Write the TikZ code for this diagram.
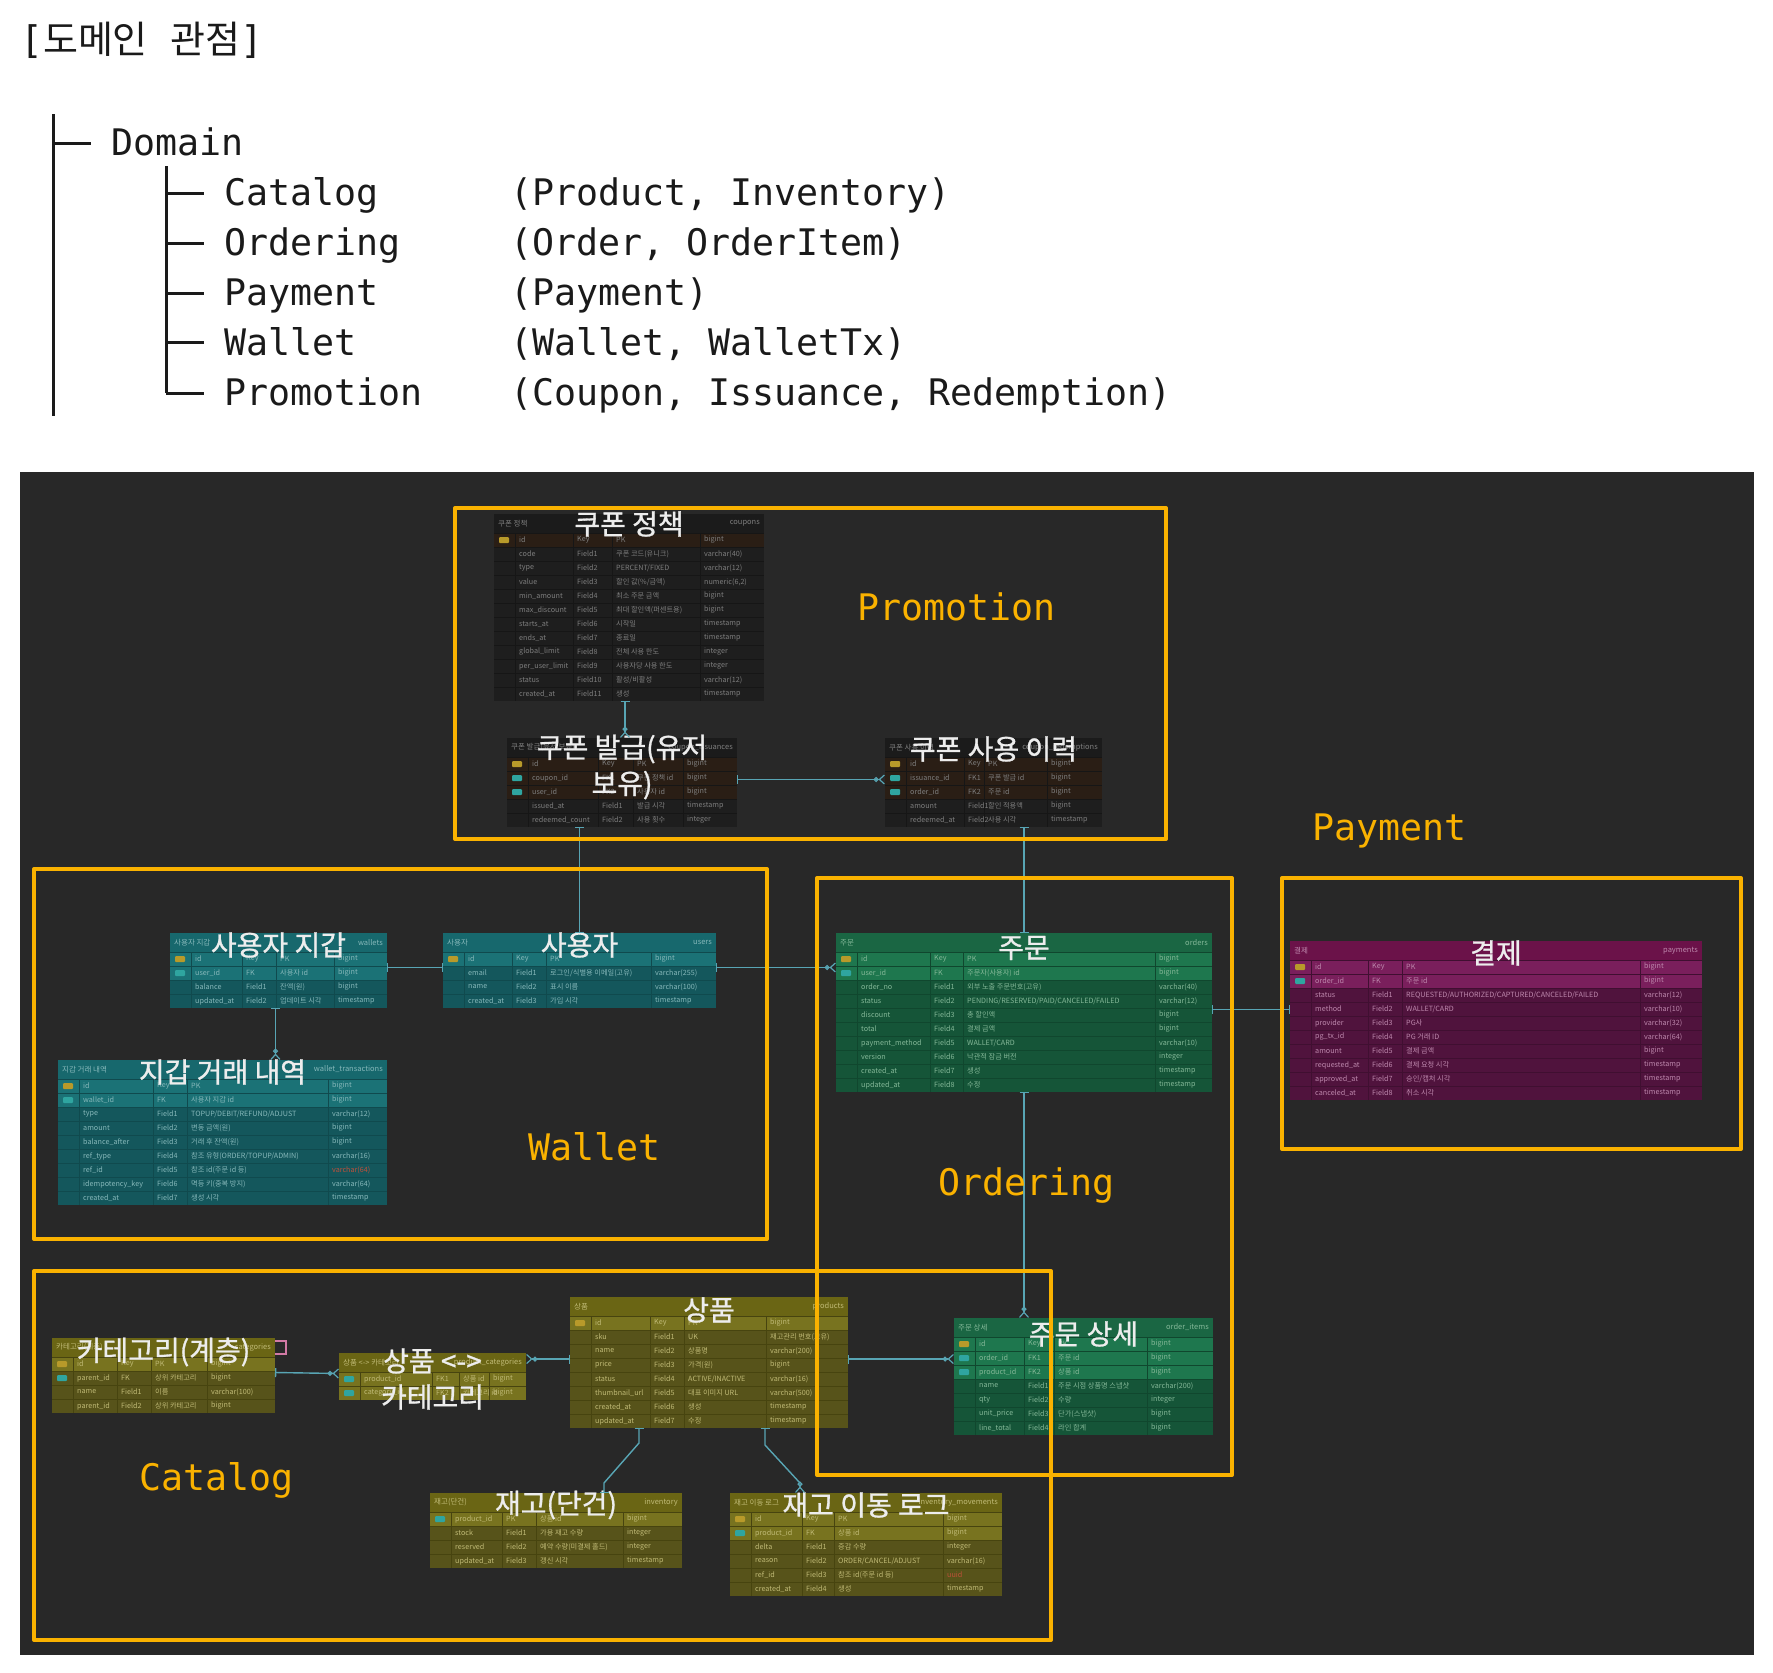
\documentclass[tikz,border=0pt]{standalone}
\usepackage{fontspec}
\usetikzlibrary{arrows.meta,calc}
\newfontfamily\mono{DejaVu Sans Mono}
\newfontfamily\cjk{Noto Sans CJK KR}
\newfontfamily\cjkb[FakeBold=1]{Noto Sans CJK KR}
\definecolor{panel}{HTML}{282828}
\definecolor{orng}{RGB}{250,178,0}
\definecolor{connc}{RGB}{88,165,180}
\definecolor{inkc}{HTML}{1A1A1A}
\definecolor{iconpk}{HTML}{B89A2A}
\definecolor{iconfk}{HTML}{2FA5A0}
\definecolor{reftype}{HTML}{C0503A}
\definecolor{pinkish}{HTML}{D27AA5}
% themes
\definecolor{dkhd}{HTML}{1B1B1B}\definecolor{dkrow}{HTML}{1E1E1E}\definecolor{dkhl}{HTML}{2A1E15}\definecolor{dksep}{HTML}{161616}\definecolor{dktxt}{HTML}{7E7E7E}
\definecolor{tlhd}{HTML}{17686D}\definecolor{tlrow}{HTML}{14575C}\definecolor{tlhl}{HTML}{1B7276}\definecolor{tlsep}{HTML}{104A4E}\definecolor{tltxt}{HTML}{86B8BA}
\definecolor{gnhd}{HTML}{1A6643}\definecolor{gnrow}{HTML}{155538}\definecolor{gnhl}{HTML}{1E774E}\definecolor{gnsep}{HTML}{10472E}\definecolor{gntxt}{HTML}{84B898}
\definecolor{puhd}{HTML}{6B1249}\definecolor{purow}{HTML}{50133D}\definecolor{puhl}{HTML}{7A1F5C}\definecolor{pusep}{HTML}{400F31}\definecolor{putxt}{HTML}{BE88AD}
\definecolor{olhd}{HTML}{6A6514}\definecolor{olrow}{HTML}{57531A}\definecolor{olhl}{HTML}{78731F}\definecolor{olsep}{HTML}{47440F}\definecolor{oltxt}{HTML}{C0BA76}
\newcommand\settable[8]{\def\TL{#1}\def\TT{#2}\def\TW{#3}\def\CK{#4}\def\CC{#5}\def\CT{#6}\def\TH{#7}\def\NR{#8}}
\newcommand\tablebg[3]{%
  \pgfmathsetmacro\TBH{19+14*\NR}%
  \node[tblbox, fill=\TH row, minimum width=\TW pt, minimum height=\TBH pt] (#1) at (\TL,\TT) {};
  \fill[\TH hd] (\TL,\TT) rectangle ++(\TW,19);
  \node[hdl,text=\TH txt] at (\TL+4,\TT+9.5) {#2};
  \node[hdr,text=\TH txt] at (\TL+\TW-4,\TT+9.5) {#3};
}
\newcommand\trow[6]{%
  \pgfmathsetmacro\RY{\TT+19+14*(#1-1)}%
  \ifnum#2<3 \ifnum#2>0 \fill[\TH hl] (\TL,\RY) rectangle ++(\TW,14);\fi\fi
  \ifnum#2=1 \fill[iconpk,rounded corners=1pt] (\TL+5,\RY+4) rectangle ++(10,6);\fi
  \ifnum#2>1 \fill[iconfk,rounded corners=1pt] (\TL+5,\RY+4) rectangle ++(10,6);\fi
  \draw[\TH sep, line width=0.8pt] (\TL,\RY) -- ++(\TW,0);
  \node[cellt,text=\TH txt] at (\TL+25,\RY+7) {#3};
  \node[cellt,text=\TH txt] at (\TL+\CK+4,\RY+7) {#4};
  \node[cellt,text=\TH txt] at (\TL+\CC+4,\RY+7) {#5};
  \node[cellt,text=\TH txt] at (\TL+\CT+4,\RY+7) {#6};
}
\newcommand\tablesep{%
  \pgfmathsetmacro\TB{\TT+19+14*\NR}%
  \foreach \cx in {21,\CK,\CC,\CT} {\draw[\TH sep, line width=0.8pt] (\TL+\cx,\TT+19) -- (\TL+\cx,\TB);}
}
\newcommand\ttitle[2]{\node[ttl] at (\TL+\TW/2,\TT+#1) {#2};}
\tikzset{
  erone/.tip={Bar[width=9pt,line width=1.3pt]},
  ermany/.tip={Circle[open,length=5pt,width=5pt,line width=1.2pt] Straight Barb[reversed,length=5pt,width=9pt,line width=1.2pt]},
}
\begin{document}
\begin{tikzpicture}[x=1pt,y=-1pt,
  tblbox/.style={draw=none,inner sep=0,outer sep=0,anchor=north west},
  hdl/.style={anchor=west,inner sep=0,font=\cjk\fontsize{7.5}{8}\selectfont},
  hdr/.style={anchor=east,inner sep=0,font=\cjk\fontsize{7.5}{8}\selectfont},
  cellt/.style={anchor=west,inner sep=0,font=\cjk\fontsize{7.2}{8}\selectfont},
  ttl/.style={inner sep=0,align=center,text=white!93!black,font=\cjkb\fontsize{28}{36}\selectfont},
  treetxt/.style={anchor=base west,inner sep=0,text=inkc,font=\mono\fontsize{36.6}{40}\selectfont},
  olabel/.style={anchor=base west,inner sep=0,text=orng,font=\mono\fontsize{36.6}{40}\selectfont},
  treeln/.style={draw=inkc,line width=3pt},
  conn/.style={draw=connc,line width=1.4pt},
  obox/.style={draw=orng,line width=4pt,line join=round}]
\fill[white] (0,0) rectangle (1773,1673);
\useasboundingbox (0,0) rectangle (1773,1673);
% ---------- top text ----------
\node[anchor=base west,inner sep=0,text=inkc] (title) at (20,53)
  {\fontsize{38}{42}\selectfont{\mono[}{\cjk 도메인}{\mono\ }{\cjk 관점}{\mono]}};
\draw[treeln] (53,114) -- (53,416);
\draw[treeln] (53,143) -- (91,143);
\draw[treeln] (166,166) -- (166,393);
\foreach \yy in {193,243,293,342,393} {\draw[treeln] (166,\yy) -- (204,\yy);}
\node[treetxt] (tdom) at (111,155) {Domain};
\node[treetxt] (tcat) at (224,205) {Catalog};
\node[treetxt] (tord) at (224,255) {Ordering};
\node[treetxt] (tpay) at (224,305) {Payment};
\node[treetxt] (twal) at (224,355) {Wallet};
\node[treetxt] (tpro) at (224,405) {Promotion};
\node[treetxt] (pcat) at (510,205) {(Product, Inventory)};
\node[treetxt] (pord) at (510,255) {(Order, OrderItem)};
\node[treetxt] (ppay) at (510,305) {(Payment)};
\node[treetxt] (pwal) at (510,355) {(Wallet, WalletTx)};
\node[treetxt] (ppro) at (510,405) {(Coupon, Issuance, Redemption)};
% ---------- panel ----------
\fill[panel] (20,472) rectangle (1754,1655);
% ---------- coupons ----------
\settable{494}{514}{270}{79}{118}{206}{dk}{12}
\tablebg{cpn}{쿠폰 정책}{coupons}
\trow{1}{1}{id}{Key}{PK}{bigint}
\trow{2}{0}{code}{Field1}{쿠폰 코드(유니크)}{varchar(40)}
\trow{3}{0}{type}{Field2}{PERCENT/FIXED}{varchar(12)}
\trow{4}{0}{value}{Field3}{할인 값(\%/금액)}{numeric(6,2)}
\trow{5}{0}{min\_amount}{Field4}{최소 주문 금액}{bigint}
\trow{6}{0}{max\_discount}{Field5}{최대 할인액(퍼센트용)}{bigint}
\trow{7}{0}{starts\_at}{Field6}{시작일}{timestamp}
\trow{8}{0}{ends\_at}{Field7}{종료일}{timestamp}
\trow{9}{0}{global\_limit}{Field8}{전체 사용 한도}{integer}
\trow{10}{0}{per\_user\_limit}{Field9}{사용자당 사용 한도}{integer}
\trow{11}{0}{status}{Field10}{활성/비활성}{varchar(12)}
\trow{12}{0}{created\_at}{Field11}{생성}{timestamp}
\tablesep
\ttitle{10}{쿠폰 정책}
% ---------- issuances ----------
\settable{507}{738}{230}{91}{126}{176}{dk}{5}
\tablebg{iss}{쿠폰 발급(유저 보유)}{coupon\_issuances}
\trow{1}{1}{id}{Key}{PK}{bigint}
\trow{2}{2}{coupon\_id}{FK1}{쿠폰 정책 id}{bigint}
\trow{3}{2}{user\_id}{FK2}{사용자 id}{bigint}
\trow{4}{0}{issued\_at}{Field1}{발급 시각}{timestamp}
\trow{5}{0}{redeemed\_count}{Field2}{사용 횟수}{integer}
\tablesep
\ttitle{29}{쿠폰 발급(유저\\보유)}
% ---------- redemptions ----------
\settable{885}{738}{217}{79}{99}{162}{dk}{5}
\tablebg{red}{쿠폰 사용 이력}{coupon\_redemptions}
\trow{1}{1}{id}{Key}{PK}{bigint}
\trow{2}{2}{issuance\_id}{FK1}{쿠폰 발급 id}{bigint}
\trow{3}{2}{order\_id}{FK2}{주문 id}{bigint}
\trow{4}{0}{amount}{Field1}{할인 적용액}{bigint}
\trow{5}{0}{redeemed\_at}{Field2}{사용 시각}{timestamp}
\tablesep
\ttitle{11}{쿠폰 사용 이력}
% ---------- wallets ----------
\settable{170}{933}{217}{72}{106}{164}{tl}{4}
\tablebg{wal}{사용자 지갑}{wallets}
\trow{1}{1}{id}{Key}{PK}{bigint}
\trow{2}{2}{user\_id}{FK}{사용자 id}{bigint}
\trow{3}{0}{balance}{Field1}{잔액(원)}{bigint}
\trow{4}{0}{updated\_at}{Field2}{업데이트 시각}{timestamp}
\tablesep
\ttitle{12}{사용자 지갑}
% ---------- users ----------
\settable{443}{933}{273}{69}{103}{208}{tl}{4}
\tablebg{usr}{사용자}{users}
\trow{1}{1}{id}{Key}{PK}{bigint}
\trow{2}{0}{email}{Field1}{로그인/식별용 이메일(고유)}{varchar(255)}
\trow{3}{0}{name}{Field2}{표시 이름}{varchar(100)}
\trow{4}{0}{created\_at}{Field3}{가입 시각}{timestamp}
\tablesep
\ttitle{12}{사용자}
% ---------- wallet transactions ----------
\settable{58}{1060}{329}{95}{129}{270}{tl}{9}
\tablebg{wtx}{지갑 거래 내역}{wallet\_transactions}
\trow{1}{1}{id}{Key}{PK}{bigint}
\trow{2}{2}{wallet\_id}{FK}{사용자 지갑 id}{bigint}
\trow{3}{0}{type}{Field1}{TOPUP/DEBIT/REFUND/ADJUST}{varchar(12)}
\trow{4}{0}{amount}{Field2}{변동 금액(원)}{bigint}
\trow{5}{0}{balance\_after}{Field3}{거래 후 잔액(원)}{bigint}
\trow{6}{0}{ref\_type}{Field4}{참조 유형(ORDER/TOPUP/ADMIN)}{varchar(16)}
\trow{7}{0}{ref\_id}{Field5}{참조 id(주문 id 등)}{\textcolor{reftype}{varchar(64)}}
\trow{8}{0}{idempotency\_key}{Field6}{멱등 키(중복 방지)}{varchar(64)}
\trow{9}{0}{created\_at}{Field7}{생성 시각}{timestamp}
\tablesep
\ttitle{12}{지갑 거래 내역}
% ---------- orders ----------
\settable{836}{933}{376}{94}{127}{319}{gn}{10}
\tablebg{ord}{주문}{orders}
\trow{1}{1}{id}{Key}{PK}{bigint}
\trow{2}{2}{user\_id}{FK}{주문자(사용자) id}{bigint}
\trow{3}{0}{order\_no}{Field1}{외부 노출 주문번호(고유)}{varchar(40)}
\trow{4}{0}{status}{Field2}{PENDING/RESERVED/PAID/CANCELED/FAILED}{varchar(12)}
\trow{5}{0}{discount}{Field3}{총 할인액}{bigint}
\trow{6}{0}{total}{Field4}{결제 금액}{bigint}
\trow{7}{0}{payment\_method}{Field5}{WALLET/CARD}{varchar(10)}
\trow{8}{0}{version}{Field6}{낙관적 잠금 버전}{integer}
\trow{9}{0}{created\_at}{Field7}{생성}{timestamp}
\trow{10}{0}{updated\_at}{Field8}{수정}{timestamp}
\tablesep
\ttitle{15}{주문}
% ---------- payments ----------
\settable{1290}{941}{412}{78}{112}{350}{pu}{10}
\tablebg{pay}{결제}{payments}
\trow{1}{1}{id}{Key}{PK}{bigint}
\trow{2}{2}{order\_id}{FK}{주문 id}{bigint}
\trow{3}{0}{status}{Field1}{REQUESTED/AUTHORIZED/CAPTURED/CANCELED/FAILED}{varchar(12)}
\trow{4}{0}{method}{Field2}{WALLET/CARD}{varchar(10)}
\trow{5}{0}{provider}{Field3}{PG사}{varchar(32)}
\trow{6}{0}{pg\_tx\_id}{Field4}{PG 거래 ID}{varchar(64)}
\trow{7}{0}{amount}{Field5}{결제 금액}{bigint}
\trow{8}{0}{requested\_at}{Field6}{결제 요청 시각}{timestamp}
\trow{9}{0}{approved\_at}{Field7}{승인/캡처 시각}{timestamp}
\trow{10}{0}{canceled\_at}{Field8}{취소 시각}{timestamp}
\tablesep
\ttitle{12}{결제}
% ---------- categories ----------
\settable{52}{1338}{223}{65}{99}{155}{ol}{4}
\tablebg{cat}{카테고리(계층)}{categories}
\trow{1}{1}{id}{Key}{PK}{bigint}
\trow{2}{3}{parent\_id}{FK}{상위 카테고리}{bigint}
\trow{3}{0}{name}{Field1}{이름}{varchar(100)}
\trow{4}{0}{parent\_id}{Field2}{상위 카테고리}{bigint}
\tablesep
\ttitle{14}{카테고리(계층)}
% ---------- product categories ----------
\settable{339}{1353}{187}{93}{120}{150}{ol}{2}
\tablebg{pc}{상품 <-> 카테고리}{product\_categories}
\trow{1}{2}{product\_id}{FK1}{상품 id}{bigint}
\trow{2}{2}{category\_id}{FK2}{카테고리 id}{bigint}
\tablesep
\ttitle{26}{상품 <->\\카테고리}
% ---------- products ----------
\settable{570}{1297}{278}{80}{114}{196}{ol}{8}
\tablebg{prd}{상품}{products}
\trow{1}{1}{id}{Key}{PK}{bigint}
\trow{2}{0}{sku}{Field1}{UK}{재고관리 번호(고유)}
\trow{3}{0}{name}{Field2}{상품명}{varchar(200)}
\trow{4}{0}{price}{Field3}{가격(원)}{bigint}
\trow{5}{0}{status}{Field4}{ACTIVE/INACTIVE}{varchar(16)}
\trow{6}{0}{thumbnail\_url}{Field5}{대표 이미지 URL}{varchar(500)}
\trow{7}{0}{created\_at}{Field6}{생성}{timestamp}
\trow{8}{0}{updated\_at}{Field7}{수정}{timestamp}
\tablesep
\ttitle{13}{상품}
% ---------- order items ----------
\settable{954}{1318}{259}{70}{100}{193}{gn}{7}
\tablebg{oit}{주문 상세}{order\_items}
\trow{1}{1}{id}{Key}{PK}{bigint}
\trow{2}{2}{order\_id}{FK1}{주문 id}{bigint}
\trow{3}{2}{product\_id}{FK2}{상품 id}{bigint}
\trow{4}{0}{name}{Field1}{주문 시점 상품명 스냅샷}{varchar(200)}
\trow{5}{0}{qty}{Field2}{수량}{integer}
\trow{6}{0}{unit\_price}{Field3}{단가(스냅샷)}{bigint}
\trow{7}{0}{line\_total}{Field4}{라인 합계}{bigint}
\tablesep
\ttitle{16}{주문 상세}
% ---------- inventory ----------
\settable{430}{1493}{252}{72}{106}{193}{ol}{4}
\tablebg{inv}{재고(단건)}{inventory}
\trow{1}{2}{product\_id}{PK}{상품 id}{bigint}
\trow{2}{0}{stock}{Field1}{가용 재고 수량}{integer}
\trow{3}{0}{reserved}{Field2}{예약 수량(미결제 홀드)}{integer}
\trow{4}{0}{updated\_at}{Field3}{갱신 시각}{timestamp}
\tablesep
\ttitle{12}{재고(단건)}
% ---------- inventory movements ----------
\settable{730}{1493}{272}{72}{104}{213}{ol}{6}
\tablebg{mov}{재고 이동 로그}{inventory\_movements}
\trow{1}{1}{id}{Key}{PK}{bigint}
\trow{2}{2}{product\_id}{FK}{상품 id}{bigint}
\trow{3}{0}{delta}{Field1}{증감 수량}{integer}
\trow{4}{0}{reason}{Field2}{ORDER/CANCEL/ADJUST}{varchar(16)}
\trow{5}{0}{ref\_id}{Field3}{참조 id(주문 id 등)}{\textcolor{reftype}{uuid}}
\trow{6}{0}{created\_at}{Field4}{생성}{timestamp}
\tablesep
\ttitle{12}{재고 이동 로그}
% ---------- connectors ----------
\draw[conn,erone-ermany] ([xshift=-4pt]cpn.south) -- ([xshift=-4pt]cpn.south |- iss.north);
\draw[conn,erone-ermany] ([yshift=3pt]iss.east) -- ([yshift=3pt]red.west);
\draw[conn,erone-erone] (usr.north |- iss.south) -- (usr.north);
\draw[conn,erone-erone] (ord.north |- red.south) -- (ord.north);
\draw[conn,erone-erone] ([yshift=3pt]wal.east) -- ([yshift=3pt]usr.west);
\draw[conn,erone-ermany] ([yshift=3pt]usr.east) -- ([yshift=3pt]usr.east -| ord.west);
\draw[conn,erone-ermany] ([xshift=-3pt]wal.south) -- ([xshift=-3pt]wal.south |- wtx.north);
\draw[conn,erone-erone] ([yshift=3pt]ord.east) -- ([yshift=3pt]ord.east -| pay.west);
\draw[conn,erone-ermany] (ord.south) -- (ord.south |- oit.north);
\draw[conn,erone-ermany] ([yshift=3pt]cat.east) -- ([yshift=3pt]pc.west);
\draw[conn,erone-ermany] ([yshift=3.5pt]prd.west) -- ([yshift=3.5pt]prd.west -| pc.east);
\draw[conn,erone-ermany] ([yshift=3.5pt]prd.east) -- ([yshift=3.5pt]prd.east -| oit.west);
\draw[conn,erone-erone] ([xshift=-70pt]prd.south) -- ++(0,15) -- ([xshift=48pt,yshift=10pt]inv.north) -- ([xshift=48pt]inv.north);
\draw[conn,erone-ermany] ([xshift=56pt]prd.south) -- ++(0,17) -- ([xshift=-66pt,yshift=10pt]mov.north) -- ([xshift=-66pt]mov.north);
\draw[draw=pinkish,line width=1.3pt] ([yshift=-3pt]cat.north east) -- ++(11,0) -- ++(0,13) -- ++(-11,0);
% ---------- domain boxes ----------
\draw[obox] (455,508) rectangle (1166,839);
\draw[obox] (34,869) rectangle (767,1239);
\draw[obox] (817,878) rectangle (1232,1475);
\draw[obox] (1282,878) rectangle (1741,1149);
\draw[obox] (34,1271) rectangle (1051,1640);
\node[olabel] (lpro) at (857,620) {Promotion};
\node[olabel] (lpay) at (1312,840) {Payment};
\node[olabel] (lwal) at (528,1160) {Wallet};
\node[olabel] (lord) at (938,1195) {Ordering};
\node[olabel] (lcat) at (139,1490) {Catalog};
\end{tikzpicture}
\end{document}
